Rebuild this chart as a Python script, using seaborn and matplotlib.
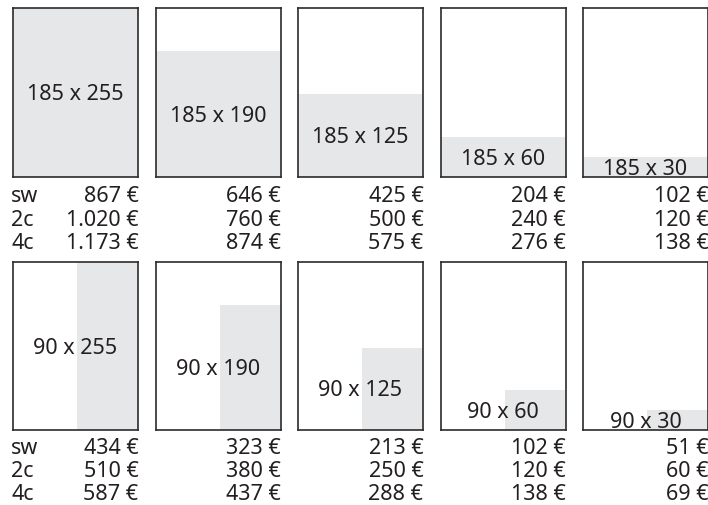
import matplotlib
matplotlib.use("Agg")
import matplotlib.pyplot as plt
import seaborn as sns

# ---- data ----
formats_w_top = [185, 185, 185, 185, 185]
formats_w_bottom = [90, 90, 90, 90, 90]
formats_h = [255, 190, 125, 60, 30]
color_labels = ["sw", "2c", "4c"]
top_sw = [867, 646, 425, 204, 102]
top_2c = [1020, 760, 500, 240, 120]
top_4c = [1173, 874, 575, 276, 138]
bottom_sw = [434, 323, 213, 102, 51]
bottom_2c = [510, 380, 250, 120, 60]
bottom_4c = [587, 437, 288, 138, 69]
page_w, page_h = 185, 255

sns.set_theme(style="white")
plt.rcParams["font.family"] = ["Noto Sans", "DejaVu Sans"]

W, H = 708, 505
fig = plt.figure(figsize=(W / 100, H / 100), dpi=100)

TXT = "#231f20"
GRAY = "#e6e7e8"
EDGE = "#2b2b2b"
FS = 15.5
WEIGHT = "medium"


def fmt(v):
    return f"{v:,}".replace(",", ".") + " €"


def add_row(widths, sw, c2, c4, top_px, bottom_px, offsets):
    for i, (w, h) in enumerate(zip(widths, formats_h)):
        left_px = 13 + i * 142.5
        ax = fig.add_axes([left_px / W, (H - bottom_px) / H, 125 / W, (bottom_px - top_px) / H])
        ax.bar([page_w - w], [h], width=w, align="edge", color=GRAY, linewidth=0)
        ax.set_xlim(0, page_w)
        ax.set_ylim(0, page_h)
        ax.set_xticks([])
        ax.set_yticks([])
        for s in ax.spines.values():
            s.set_color(EDGE)
            s.set_linewidth(1.2)
        ax.annotate(f"{w} x {h}", xy=(page_w / 2, h / 2), xycoords="data",
                    xytext=(0, -5.4), textcoords="offset points",
                    ha="center", va="baseline", fontsize=FS, color=TXT,
                    fontweight=WEIGHT, annotation_clip=False)
        for j, vals in enumerate([sw, c2, c4]):
            off_px = offsets[j]
            ax.annotate(fmt(vals[i]), xy=(1, 0), xycoords="axes fraction",
                        xytext=(0.5 * 0.72, -off_px * 0.72), textcoords="offset points",
                        ha="right", va="baseline", fontsize=FS, color=TXT,
                        fontweight=WEIGHT, annotation_clip=False)
            if i == 0:
                ax.annotate(color_labels[j], xy=(0, 0), xycoords="axes fraction",
                            xytext=(-2 * 0.72, -off_px * 0.72), textcoords="offset points",
                            ha="left", va="baseline", fontsize=FS, color=TXT,
                            fontweight=WEIGHT, annotation_clip=False)


add_row(formats_w_top, top_sw, top_2c, top_4c, 8, 177, [25, 48.5, 72])
add_row(formats_w_bottom, bottom_sw, bottom_2c, bottom_4c, 262, 430, [24, 46.7, 70])

fig.savefig("out.png", dpi=100)
